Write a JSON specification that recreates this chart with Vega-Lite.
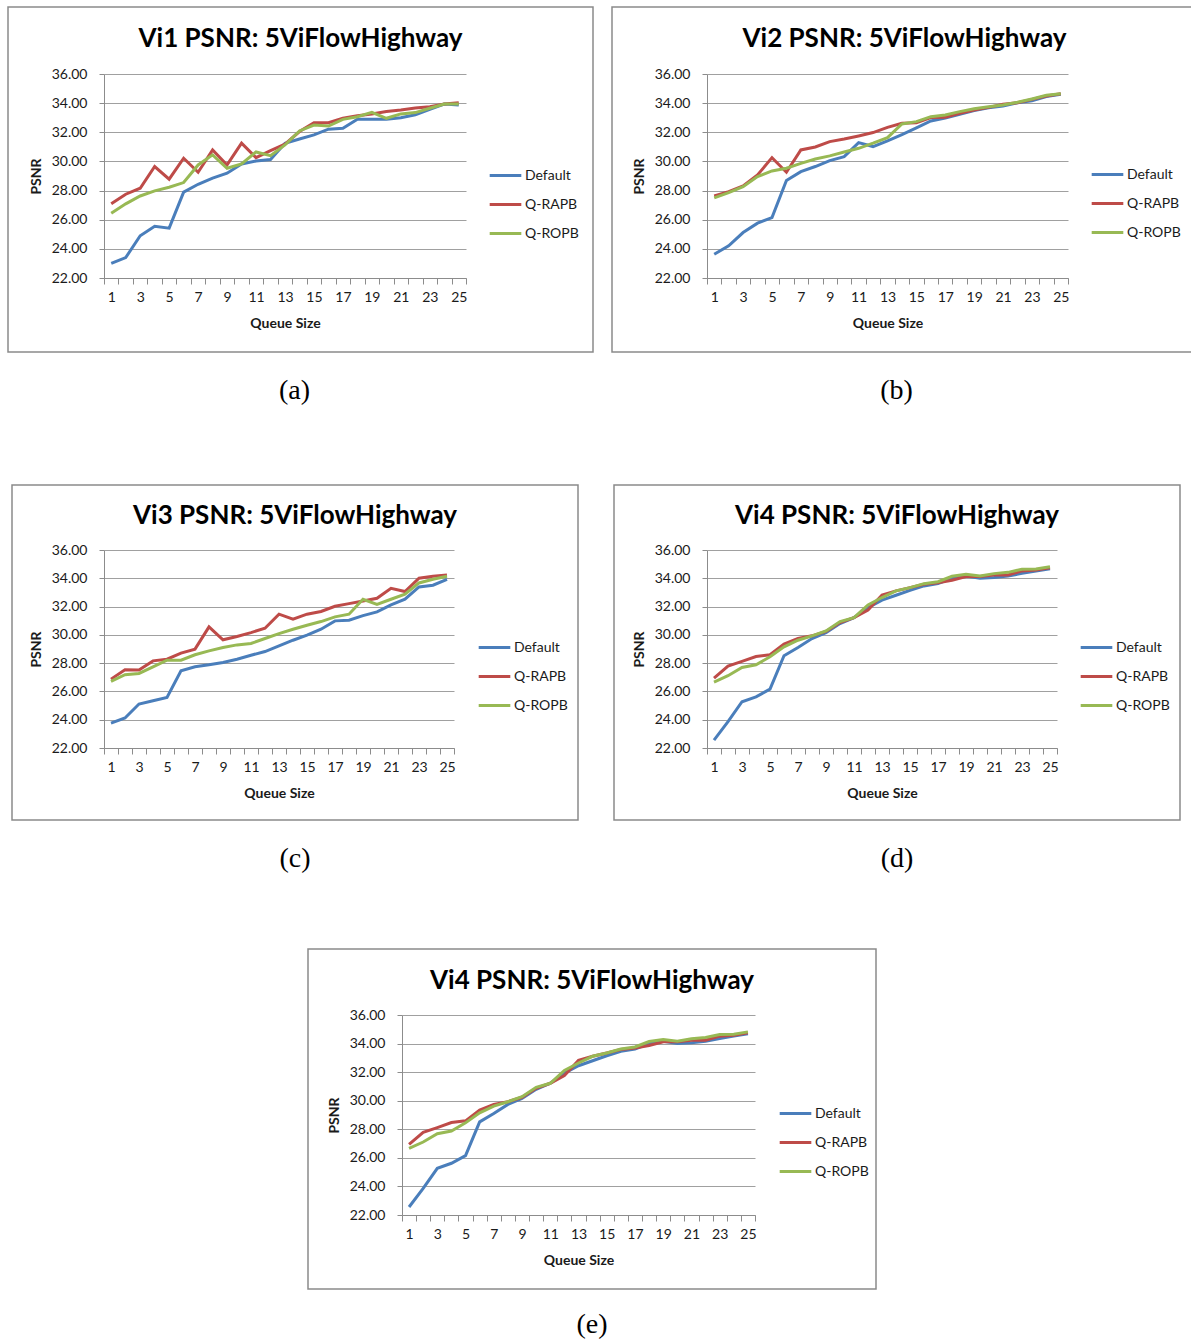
{
 "$schema": "https://vega.github.io/schema/vega-lite/v6.json",
 "background": "white",
 "padding": {"left": 7, "top": 6, "right": 0, "bottom": 0},
 "spacing": 75,
 "resolve": {"scale": {"color": "independent"}, "legend": {"color": "independent"}},
 "config": {
  "view": {"stroke": "#8a8a8a", "strokeWidth": 1.5},
  "font": "Lato",
  "title": {"font": "Lato", "fontSize": 26, "fontWeight": "bold", "color": "#000000", "anchor": "middle", "frame": "group"},
  "axis": {"labelFont": "Lato", "labelFontSize": 14, "labelColor": "#1a1a1a", "titleFont": "Lato", "titleFontSize": 14, "titleFontWeight": "bold", "titleColor": "#1a1a1a", "domainColor": "#8c8c8c", "tickColor": "#8c8c8c", "gridColor": "#a0a0a0", "domainWidth": 1, "gridWidth": 1},
  "axisX": {"grid": false, "tickBand": "extent", "tickSize": 6, "labelAngle": 0, "labelPadding": 6, "titlePadding": 12, "labelExpr": "datum.value % 2 == 1 ? datum.label : ''"},
  "axisY": {"grid": true, "tickSize": 5, "labelPadding": 12, "titlePadding": 8, "format": ".2f", "values": [22, 24, 26, 28, 30, 32, 34, 36]},
  "legend": {"labelFont": "Lato", "labelFontSize": 14, "labelColor": "#1a1a1a", "symbolType": "stroke", "symbolSize": 1000, "symbolStrokeWidth": 3, "labelOffset": 2, "rowPadding": 4, "padding": 0, "orient": "none", "title": null},
  "line": {"strokeWidth": 3}
 },
 "datasets": {
  "a": [
   {"q":1,"s":"Default","v":23.0},{"q":2,"s":"Default","v":23.4},{"q":3,"s":"Default","v":24.9},{"q":4,"s":"Default","v":25.55},{"q":5,"s":"Default","v":25.42},{"q":6,"s":"Default","v":27.89},{"q":7,"s":"Default","v":28.43},{"q":8,"s":"Default","v":28.85},{"q":9,"s":"Default","v":29.19},{"q":10,"s":"Default","v":29.83},{"q":11,"s":"Default","v":30.03},{"q":12,"s":"Default","v":30.13},{"q":13,"s":"Default","v":31.25},{"q":14,"s":"Default","v":31.54},{"q":15,"s":"Default","v":31.82},{"q":16,"s":"Default","v":32.21},{"q":17,"s":"Default","v":32.27},{"q":18,"s":"Default","v":32.89},{"q":19,"s":"Default","v":32.89},{"q":20,"s":"Default","v":32.9},{"q":21,"s":"Default","v":33.0},{"q":22,"s":"Default","v":33.2},{"q":23,"s":"Default","v":33.58},{"q":24,"s":"Default","v":33.94},{"q":25,"s":"Default","v":33.87},
   {"q":1,"s":"Q-RAPB","v":27.09},{"q":2,"s":"Q-RAPB","v":27.75},{"q":3,"s":"Q-RAPB","v":28.16},{"q":4,"s":"Q-RAPB","v":29.65},{"q":5,"s":"Q-RAPB","v":28.78},{"q":6,"s":"Q-RAPB","v":30.22},{"q":7,"s":"Q-RAPB","v":29.26},{"q":8,"s":"Q-RAPB","v":30.79},{"q":9,"s":"Q-RAPB","v":29.76},{"q":10,"s":"Q-RAPB","v":31.25},{"q":11,"s":"Q-RAPB","v":30.26},{"q":12,"s":"Q-RAPB","v":30.74},{"q":13,"s":"Q-RAPB","v":31.18},{"q":14,"s":"Q-RAPB","v":32.05},{"q":15,"s":"Q-RAPB","v":32.66},{"q":16,"s":"Q-RAPB","v":32.66},{"q":17,"s":"Q-RAPB","v":32.96},{"q":18,"s":"Q-RAPB","v":33.14},{"q":19,"s":"Q-RAPB","v":33.26},{"q":20,"s":"Q-RAPB","v":33.42},{"q":21,"s":"Q-RAPB","v":33.53},{"q":22,"s":"Q-RAPB","v":33.67},{"q":23,"s":"Q-RAPB","v":33.76},{"q":24,"s":"Q-RAPB","v":33.94},{"q":25,"s":"Q-RAPB","v":34.03},
   {"q":1,"s":"Q-ROPB","v":26.45},{"q":2,"s":"Q-ROPB","v":27.09},{"q":3,"s":"Q-ROPB","v":27.63},{"q":4,"s":"Q-ROPB","v":27.98},{"q":5,"s":"Q-ROPB","v":28.23},{"q":6,"s":"Q-ROPB","v":28.55},{"q":7,"s":"Q-ROPB","v":29.76},{"q":8,"s":"Q-ROPB","v":30.45},{"q":9,"s":"Q-ROPB","v":29.53},{"q":10,"s":"Q-ROPB","v":29.83},{"q":11,"s":"Q-ROPB","v":30.65},{"q":12,"s":"Q-ROPB","v":30.4},{"q":13,"s":"Q-ROPB","v":31.13},{"q":14,"s":"Q-ROPB","v":32.09},{"q":15,"s":"Q-ROPB","v":32.5},{"q":16,"s":"Q-ROPB","v":32.43},{"q":17,"s":"Q-ROPB","v":32.89},{"q":18,"s":"Q-ROPB","v":33.07},{"q":19,"s":"Q-ROPB","v":33.37},{"q":20,"s":"Q-ROPB","v":32.96},{"q":21,"s":"Q-ROPB","v":33.26},{"q":22,"s":"Q-ROPB","v":33.35},{"q":23,"s":"Q-ROPB","v":33.65},{"q":24,"s":"Q-ROPB","v":33.94},{"q":25,"s":"Q-ROPB","v":33.94}
  ],
  "b": [
   {"q":1,"s":"Default","v":23.63},{"q":2,"s":"Default","v":24.21},{"q":3,"s":"Default","v":25.12},{"q":4,"s":"Default","v":25.76},{"q":5,"s":"Default","v":26.15},{"q":6,"s":"Default","v":28.69},{"q":7,"s":"Default","v":29.3},{"q":8,"s":"Default","v":29.65},{"q":9,"s":"Default","v":30.06},{"q":10,"s":"Default","v":30.33},{"q":11,"s":"Default","v":31.29},{"q":12,"s":"Default","v":31.02},{"q":13,"s":"Default","v":31.41},{"q":14,"s":"Default","v":31.84},{"q":15,"s":"Default","v":32.3},{"q":16,"s":"Default","v":32.78},{"q":17,"s":"Default","v":32.98},{"q":18,"s":"Default","v":33.23},{"q":19,"s":"Default","v":33.49},{"q":20,"s":"Default","v":33.69},{"q":21,"s":"Default","v":33.81},{"q":22,"s":"Default","v":34.03},{"q":23,"s":"Default","v":34.17},{"q":24,"s":"Default","v":34.45},{"q":25,"s":"Default","v":34.61},
   {"q":1,"s":"Q-RAPB","v":27.63},{"q":2,"s":"Q-RAPB","v":27.93},{"q":3,"s":"Q-RAPB","v":28.32},{"q":4,"s":"Q-RAPB","v":29.07},{"q":5,"s":"Q-RAPB","v":30.26},{"q":6,"s":"Q-RAPB","v":29.26},{"q":7,"s":"Q-RAPB","v":30.79},{"q":8,"s":"Q-RAPB","v":30.99},{"q":9,"s":"Q-RAPB","v":31.36},{"q":10,"s":"Q-RAPB","v":31.54},{"q":11,"s":"Q-RAPB","v":31.75},{"q":12,"s":"Q-RAPB","v":31.98},{"q":13,"s":"Q-RAPB","v":32.34},{"q":14,"s":"Q-RAPB","v":32.62},{"q":15,"s":"Q-RAPB","v":32.66},{"q":16,"s":"Q-RAPB","v":33.01},{"q":17,"s":"Q-RAPB","v":33.03},{"q":18,"s":"Q-RAPB","v":33.3},{"q":19,"s":"Q-RAPB","v":33.53},{"q":20,"s":"Q-RAPB","v":33.71},{"q":21,"s":"Q-RAPB","v":33.92},{"q":22,"s":"Q-RAPB","v":34.03},{"q":23,"s":"Q-RAPB","v":34.26},{"q":24,"s":"Q-RAPB","v":34.49},{"q":25,"s":"Q-RAPB","v":34.65},
   {"q":1,"s":"Q-ROPB","v":27.5},{"q":2,"s":"Q-ROPB","v":27.86},{"q":3,"s":"Q-ROPB","v":28.27},{"q":4,"s":"Q-ROPB","v":28.96},{"q":5,"s":"Q-ROPB","v":29.35},{"q":6,"s":"Q-ROPB","v":29.53},{"q":7,"s":"Q-ROPB","v":29.87},{"q":8,"s":"Q-ROPB","v":30.17},{"q":9,"s":"Q-ROPB","v":30.38},{"q":10,"s":"Q-ROPB","v":30.65},{"q":11,"s":"Q-ROPB","v":30.9},{"q":12,"s":"Q-ROPB","v":31.25},{"q":13,"s":"Q-ROPB","v":31.63},{"q":14,"s":"Q-ROPB","v":32.57},{"q":15,"s":"Q-ROPB","v":32.73},{"q":16,"s":"Q-ROPB","v":33.07},{"q":17,"s":"Q-ROPB","v":33.19},{"q":18,"s":"Q-ROPB","v":33.42},{"q":19,"s":"Q-ROPB","v":33.62},{"q":20,"s":"Q-ROPB","v":33.76},{"q":21,"s":"Q-ROPB","v":33.87},{"q":22,"s":"Q-ROPB","v":34.06},{"q":23,"s":"Q-ROPB","v":34.29},{"q":24,"s":"Q-ROPB","v":34.54},{"q":25,"s":"Q-ROPB","v":34.65}
  ],
  "c": [
   {"q":1,"s":"Default","v":23.76},{"q":2,"s":"Default","v":24.12},{"q":3,"s":"Default","v":25.11},{"q":4,"s":"Default","v":25.34},{"q":5,"s":"Default","v":25.58},{"q":6,"s":"Default","v":27.46},{"q":7,"s":"Default","v":27.74},{"q":8,"s":"Default","v":27.88},{"q":9,"s":"Default","v":28.05},{"q":10,"s":"Default","v":28.28},{"q":11,"s":"Default","v":28.56},{"q":12,"s":"Default","v":28.82},{"q":13,"s":"Default","v":29.22},{"q":14,"s":"Default","v":29.62},{"q":15,"s":"Default","v":29.98},{"q":16,"s":"Default","v":30.4},{"q":17,"s":"Default","v":30.99},{"q":18,"s":"Default","v":31.04},{"q":19,"s":"Default","v":31.36},{"q":20,"s":"Default","v":31.62},{"q":21,"s":"Default","v":32.12},{"q":22,"s":"Default","v":32.52},{"q":23,"s":"Default","v":33.39},{"q":24,"s":"Default","v":33.51},{"q":25,"s":"Default","v":33.93},
   {"q":1,"s":"Q-RAPB","v":26.87},{"q":2,"s":"Q-RAPB","v":27.53},{"q":3,"s":"Q-RAPB","v":27.51},{"q":4,"s":"Q-RAPB","v":28.16},{"q":5,"s":"Q-RAPB","v":28.28},{"q":6,"s":"Q-RAPB","v":28.71},{"q":7,"s":"Q-RAPB","v":28.99},{"q":8,"s":"Q-RAPB","v":30.56},{"q":9,"s":"Q-RAPB","v":29.65},{"q":10,"s":"Q-RAPB","v":29.88},{"q":11,"s":"Q-RAPB","v":30.16},{"q":12,"s":"Q-RAPB","v":30.47},{"q":13,"s":"Q-RAPB","v":31.46},{"q":14,"s":"Q-RAPB","v":31.11},{"q":15,"s":"Q-RAPB","v":31.46},{"q":16,"s":"Q-RAPB","v":31.65},{"q":17,"s":"Q-RAPB","v":32.02},{"q":18,"s":"Q-RAPB","v":32.21},{"q":19,"s":"Q-RAPB","v":32.4},{"q":20,"s":"Q-RAPB","v":32.59},{"q":21,"s":"Q-RAPB","v":33.29},{"q":22,"s":"Q-RAPB","v":33.06},{"q":23,"s":"Q-RAPB","v":34.0},{"q":24,"s":"Q-RAPB","v":34.14},{"q":25,"s":"Q-RAPB","v":34.24},
   {"q":1,"s":"Q-ROPB","v":26.71},{"q":2,"s":"Q-ROPB","v":27.18},{"q":3,"s":"Q-ROPB","v":27.27},{"q":4,"s":"Q-ROPB","v":27.74},{"q":5,"s":"Q-ROPB","v":28.21},{"q":6,"s":"Q-ROPB","v":28.21},{"q":7,"s":"Q-ROPB","v":28.59},{"q":8,"s":"Q-ROPB","v":28.87},{"q":9,"s":"Q-ROPB","v":29.11},{"q":10,"s":"Q-ROPB","v":29.29},{"q":11,"s":"Q-ROPB","v":29.39},{"q":12,"s":"Q-ROPB","v":29.74},{"q":13,"s":"Q-ROPB","v":30.09},{"q":14,"s":"Q-ROPB","v":30.4},{"q":15,"s":"Q-ROPB","v":30.68},{"q":16,"s":"Q-ROPB","v":30.94},{"q":17,"s":"Q-ROPB","v":31.27},{"q":18,"s":"Q-ROPB","v":31.46},{"q":19,"s":"Q-ROPB","v":32.52},{"q":20,"s":"Q-ROPB","v":32.16},{"q":21,"s":"Q-ROPB","v":32.52},{"q":22,"s":"Q-ROPB","v":32.87},{"q":23,"s":"Q-ROPB","v":33.67},{"q":24,"s":"Q-ROPB","v":33.93},{"q":25,"s":"Q-ROPB","v":34.14}
  ],
  "d": [
   {"q":1,"s":"Default","v":22.56},{"q":2,"s":"Default","v":23.86},{"q":3,"s":"Default","v":25.27},{"q":4,"s":"Default","v":25.62},{"q":5,"s":"Default","v":26.16},{"q":6,"s":"Default","v":28.52},{"q":7,"s":"Default","v":29.11},{"q":8,"s":"Default","v":29.74},{"q":9,"s":"Default","v":30.16},{"q":10,"s":"Default","v":30.8},{"q":11,"s":"Default","v":31.22},{"q":12,"s":"Default","v":31.93},{"q":13,"s":"Default","v":32.45},{"q":14,"s":"Default","v":32.8},{"q":15,"s":"Default","v":33.15},{"q":16,"s":"Default","v":33.46},{"q":17,"s":"Default","v":33.62},{"q":18,"s":"Default","v":34.0},{"q":19,"s":"Default","v":34.16},{"q":20,"s":"Default","v":34.0},{"q":21,"s":"Default","v":34.05},{"q":22,"s":"Default","v":34.16},{"q":23,"s":"Default","v":34.35},{"q":24,"s":"Default","v":34.52},{"q":25,"s":"Default","v":34.68},
   {"q":1,"s":"Q-RAPB","v":26.94},{"q":2,"s":"Q-RAPB","v":27.79},{"q":3,"s":"Q-RAPB","v":28.12},{"q":4,"s":"Q-RAPB","v":28.47},{"q":5,"s":"Q-RAPB","v":28.59},{"q":6,"s":"Q-RAPB","v":29.34},{"q":7,"s":"Q-RAPB","v":29.74},{"q":8,"s":"Q-RAPB","v":29.93},{"q":9,"s":"Q-RAPB","v":30.24},{"q":10,"s":"Q-RAPB","v":30.87},{"q":11,"s":"Q-RAPB","v":31.22},{"q":12,"s":"Q-RAPB","v":31.76},{"q":13,"s":"Q-RAPB","v":32.82},{"q":14,"s":"Q-RAPB","v":33.11},{"q":15,"s":"Q-RAPB","v":33.34},{"q":16,"s":"Q-RAPB","v":33.58},{"q":17,"s":"Q-RAPB","v":33.69},{"q":18,"s":"Q-RAPB","v":33.86},{"q":19,"s":"Q-RAPB","v":34.12},{"q":20,"s":"Q-RAPB","v":34.12},{"q":21,"s":"Q-RAPB","v":34.24},{"q":22,"s":"Q-RAPB","v":34.24},{"q":23,"s":"Q-RAPB","v":34.52},{"q":24,"s":"Q-RAPB","v":34.59},{"q":25,"s":"Q-RAPB","v":34.75},
   {"q":1,"s":"Q-ROPB","v":26.66},{"q":2,"s":"Q-ROPB","v":27.11},{"q":3,"s":"Q-ROPB","v":27.69},{"q":4,"s":"Q-ROPB","v":27.88},{"q":5,"s":"Q-ROPB","v":28.45},{"q":6,"s":"Q-ROPB","v":29.15},{"q":7,"s":"Q-ROPB","v":29.62},{"q":8,"s":"Q-ROPB","v":29.93},{"q":9,"s":"Q-ROPB","v":30.28},{"q":10,"s":"Q-ROPB","v":30.94},{"q":11,"s":"Q-ROPB","v":31.22},{"q":12,"s":"Q-ROPB","v":32.12},{"q":13,"s":"Q-ROPB","v":32.64},{"q":14,"s":"Q-ROPB","v":33.11},{"q":15,"s":"Q-ROPB","v":33.34},{"q":16,"s":"Q-ROPB","v":33.62},{"q":17,"s":"Q-ROPB","v":33.76},{"q":18,"s":"Q-ROPB","v":34.14},{"q":19,"s":"Q-ROPB","v":34.28},{"q":20,"s":"Q-ROPB","v":34.16},{"q":21,"s":"Q-ROPB","v":34.33},{"q":22,"s":"Q-ROPB","v":34.42},{"q":23,"s":"Q-ROPB","v":34.64},{"q":24,"s":"Q-ROPB","v":34.66},{"q":25,"s":"Q-ROPB","v":34.82}
  ]
 },
 "vconcat": [
  {
   "spacing": 17,
   "resolve": {"scale": {"color": "independent"}, "legend": {"color": "independent"}},
   "hconcat": [
    {
     "title": {"text": "(a)", "orient": "bottom", "anchor": "middle", "frame": "bounds", "font": "Liberation Serif", "fontSize": 28, "fontWeight": "normal", "color": "#000000", "offset": 24, "dx": -6},
     "resolve": {"scale": {"color": "independent"}, "legend": {"color": "independent"}},
     "vconcat": [
      {
       "width": 585, "height": 345,
       "data": {"name": "a"},
       "title": {"text": "Vi1 PSNR: 5ViFlowHighway", "offset": -45},
       "mark": {"type": "line"},
       "encoding": {
        "x": {"field": "q", "type": "ordinal", "scale": {"type": "band", "range": [96, 458], "paddingInner": 0, "paddingOuter": 0}, "axis": {"title": "Queue Size", "offset": -74}},
        "y": {"field": "v", "type": "quantitative", "scale": {"domain": [22, 36], "range": [271, 67], "nice": false, "zero": false}, "axis": {"title": "PSNR", "offset": -96}},
        "color": {"field": "s", "type": "nominal", "scale": {"domain": ["Default", "Q-RAPB", "Q-ROPB"], "range": ["#4A7EBB", "#BE4B48", "#98B954"]}, "legend": {"legendX": 480, "legendY": 151}}
       }
      }
     ]
    },
    {
     "title": {"text": "(b)", "orient": "bottom", "anchor": "middle", "frame": "bounds", "font": "Liberation Serif", "fontSize": 28, "fontWeight": "normal", "color": "#000000", "offset": 24, "dx": -8},
     "resolve": {"scale": {"color": "independent"}, "legend": {"color": "independent"}},
     "vconcat": [
      {
       "width": 585, "height": 345,
       "data": {"name": "b"},
       "title": {"text": "Vi2 PSNR: 5ViFlowHighway", "offset": -45},
       "mark": {"type": "line"},
       "encoding": {
        "x": {"field": "q", "type": "ordinal", "scale": {"type": "band", "range": [95, 456], "paddingInner": 0, "paddingOuter": 0}, "axis": {"title": "Queue Size", "offset": -74}},
        "y": {"field": "v", "type": "quantitative", "scale": {"domain": [22, 36], "range": [271, 67], "nice": false, "zero": false}, "axis": {"title": "PSNR", "offset": -95}},
        "color": {"field": "s", "type": "nominal", "scale": {"domain": ["Default", "Q-RAPB", "Q-ROPB"], "range": ["#4A7EBB", "#BE4B48", "#98B954"]}, "legend": {"legendX": 478, "legendY": 150}}
       }
      }
     ]
    },
    {"width": 1, "height": 402, "data": {"values": []}, "mark": "point", "view": {"stroke": null}}
   ]
  },
  {
   "spacing": 0,
   "resolve": {"scale": {"color": "independent"}, "legend": {"color": "independent"}},
   "hconcat": [
    {"width": 3, "height": 10, "data": {"values": []}, "mark": "point", "view": {"stroke": null}},
    {
     "spacing": 34,
     "resolve": {"scale": {"color": "independent"}, "legend": {"color": "independent"}},
     "hconcat": [
      {
       "title": {"text": "(c)", "orient": "bottom", "anchor": "middle", "frame": "bounds", "font": "Liberation Serif", "fontSize": 28, "fontWeight": "normal", "color": "#000000", "offset": 24},
       "resolve": {"scale": {"color": "independent"}, "legend": {"color": "independent"}},
       "vconcat": [
        {
         "width": 566, "height": 335,
         "data": {"name": "c"},
         "title": {"text": "Vi3 PSNR: 5ViFlowHighway", "offset": -44},
         "mark": {"type": "line"},
         "encoding": {
          "x": {"field": "q", "type": "ordinal", "scale": {"type": "band", "range": [92, 442], "paddingInner": 0, "paddingOuter": 0}, "axis": {"title": "Queue Size", "offset": -72}},
          "y": {"field": "v", "type": "quantitative", "scale": {"domain": [22, 36], "range": [263, 65], "nice": false, "zero": false}, "axis": {"title": "PSNR", "offset": -92}},
          "color": {"field": "s", "type": "nominal", "scale": {"domain": ["Default", "Q-RAPB", "Q-ROPB"], "range": ["#4A7EBB", "#BE4B48", "#98B954"]}, "legend": {"legendX": 465, "legendY": 145}}
         }
        }
       ]
      },
      {
       "title": {"text": "(d)", "orient": "bottom", "anchor": "middle", "frame": "bounds", "font": "Liberation Serif", "fontSize": 28, "fontWeight": "normal", "color": "#000000", "offset": 24},
       "resolve": {"scale": {"color": "independent"}, "legend": {"color": "independent"}},
       "vconcat": [
        {
         "width": 566, "height": 335,
         "data": {"name": "d"},
         "title": {"text": "Vi4 PSNR: 5ViFlowHighway", "offset": -44},
         "mark": {"type": "line"},
         "encoding": {
          "x": {"field": "q", "type": "ordinal", "scale": {"type": "band", "range": [93, 443], "paddingInner": 0, "paddingOuter": 0}, "axis": {"title": "Queue Size", "offset": -72}},
          "y": {"field": "v", "type": "quantitative", "scale": {"domain": [22, 36], "range": [263, 65], "nice": false, "zero": false}, "axis": {"title": "PSNR", "offset": -93}},
          "color": {"field": "s", "type": "nominal", "scale": {"domain": ["Default", "Q-RAPB", "Q-ROPB"], "range": ["#4A7EBB", "#BE4B48", "#98B954"]}, "legend": {"legendX": 465, "legendY": 145}}
         }
        }
       ]
      }
     ]
    }
   ]
  },
  {
   "spacing": 0,
   "resolve": {"scale": {"color": "independent"}, "legend": {"color": "independent"}},
   "hconcat": [
    {"width": 299, "height": 10, "data": {"values": []}, "mark": "point", "view": {"stroke": null}},
    {
     "title": {"text": "(e)", "orient": "bottom", "anchor": "middle", "frame": "bounds", "font": "Liberation Serif", "fontSize": 28, "fontWeight": "normal", "color": "#000000", "offset": 21},
     "resolve": {"scale": {"color": "independent"}, "legend": {"color": "independent"}},
     "vconcat": [
      {
       "width": 568, "height": 340,
       "data": {"name": "d"},
       "title": {"text": "Vi4 PSNR: 5ViFlowHighway", "offset": -45},
       "mark": {"type": "line"},
       "encoding": {
        "x": {"field": "q", "type": "ordinal", "scale": {"type": "band", "range": [94, 447], "paddingInner": 0, "paddingOuter": 0}, "axis": {"title": "Queue Size", "offset": -74}},
        "y": {"field": "v", "type": "quantitative", "scale": {"domain": [22, 36], "range": [266, 66], "nice": false, "zero": false}, "axis": {"title": "PSNR", "offset": -94}},
        "color": {"field": "s", "type": "nominal", "scale": {"domain": ["Default", "Q-RAPB", "Q-ROPB"], "range": ["#4A7EBB", "#BE4B48", "#98B954"]}, "legend": {"legendX": 470, "legendY": 147}}
       }
      }
     ]
    }
   ]
  }
 ]
}
